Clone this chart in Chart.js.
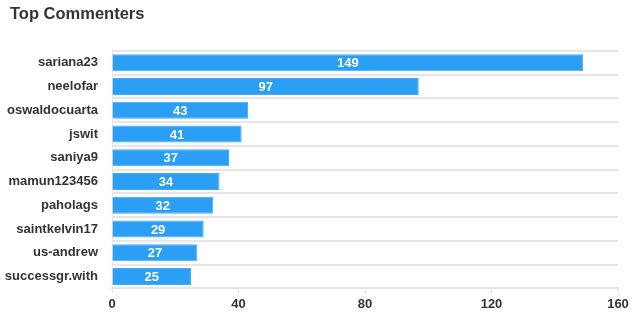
<!DOCTYPE html>
<html>
<head>
<meta charset="utf-8">
<script src="https://cdn.jsdelivr.net/npm/chart.js@4"></script>
<style>
  html, body { margin: 0; padding: 0; background: #fff; }
  #wrap { width: 640px; height: 327px; position: relative; }
</style>
</head>
<body>
<div id="wrap"><canvas id="chart-top-commenters"></canvas></div>
<script>
// Top commenters - horizontal bar chart
const commenters = ['sariana23', 'neelofar', 'oswaldocuarta', 'jswit', 'saniya9',
  'mamun123456', 'paholags', 'saintkelvin17', 'us-andrew', 'successgr.with'];
const commentCounts = [149, 97, 43, 41, 37, 34, 32, 29, 27, 25];
const xTicks = [0, 40, 80, 120, 160];

const FONT = '"Liberation Sans", Arial, sans-serif';

// white value labels in the middle of each bar
const barLabels = {
  id: 'barLabels',
  afterLayout(chart) {
    // title sits a little right of the axis labels
    if (chart.titleBlock) {
      chart.titleBlock.left += 6;
      chart.titleBlock.right += 6;
    }
  },
  afterDatasetsDraw(chart) {
    const ctx = chart.ctx;
    const meta = chart.getDatasetMeta(0);
    ctx.save();
    ctx.fillStyle = '#ffffff';
    ctx.font = 'bold 13px ' + FONT;
    ctx.textAlign = 'center';
    ctx.textBaseline = 'middle';
    meta.data.forEach((bar, i) => {
      const cx = (bar.x + bar.base) / 2;
      ctx.fillText(String(commentCounts[i]), cx, bar.y + 1);
    });
    ctx.restore();
  },
};

new Chart(document.getElementById('chart-top-commenters'), {
  type: 'bar',
  data: {
    labels: commenters,
    datasets: [{
      data: commentCounts,
      backgroundColor: '#2b9ef5',
      borderColor: '#4aabf5',
      borderWidth: 1,
    }],
  },
  options: {
    responsive: true,
    maintainAspectRatio: false,
    animation: false,
    indexAxis: 'y',
    layout: { padding: { left: 4, right: 22, top: 0, bottom: 12 } },
    plugins: {
      legend: { display: false },
      tooltip: { enabled: false },
      title: {
        display: true,
        text: 'Top Commenters',
        align: 'start',
        color: '#333333',
        font: { family: FONT, size: 16.5, weight: 'bold' },
        padding: { top: 5, bottom: 26 },
      },
    },
    scales: {
      x: {
        min: 0,
        max: 160,
        afterBuildTicks: axis => { axis.ticks = xTicks.map(v => ({ value: v })); },
        ticks: { color: '#333333', font: { family: FONT, size: 13, weight: 'bold' }, padding: 3 },
        grid: { drawOnChartArea: false, drawTicks: true, tickLength: 5, color: '#e3e3e3' },
        border: { color: '#e3e3e3', width: 2 },
      },
      y: {
        afterFit: axis => { axis.width = 108; },
        ticks: { color: '#333333', font: { family: FONT, size: 13, weight: 'bold' }, padding: 14 },
        grid: { color: '#e6e6e6', lineWidth: 2, drawTicks: false },
        border: { color: '#e6e6e6' },
      },
    },
  },
  plugins: [barLabels],
});
</script>
</body>
</html>
